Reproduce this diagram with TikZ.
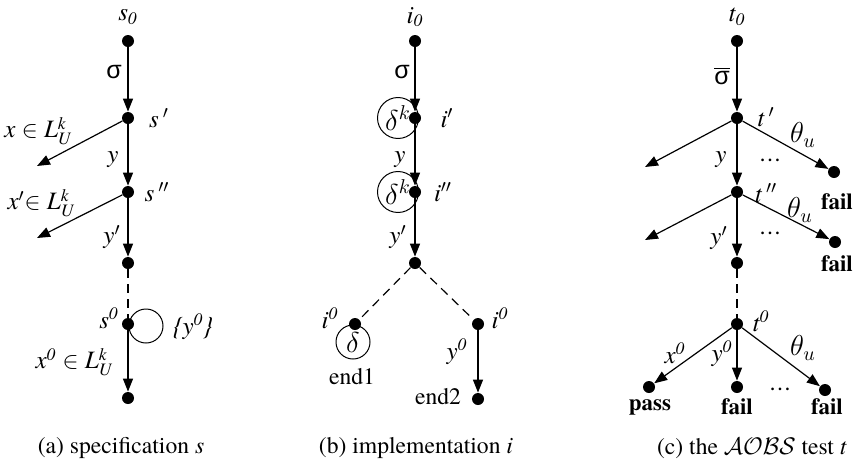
\documentclass[tikz,border=0pt]{standalone}
\usepackage{amsmath}
\usepackage{fontspec}
\setmainfont{texgyretermes}[Extension=.otf,UprightFont=*-regular,ItalicFont=*-italic,BoldFont=*-bold,BoldItalicFont=*-bolditalic,Ligatures=TeX]
\newfontfamily\sansgr{Liberation Sans}
\usetikzlibrary{arrows.meta}
\newcommand{\myLk}{\textit{L}$^{\textit{k}}_{\textit{U}}$}
\newcommand{\mysig}{{\sansgr\upshape σ}}
\newcommand{\pr}{$'$}
\newcommand{\ppr}{$''$}
\begin{document}
\begin{tikzpicture}[x=0.5pt,y=-0.5pt,
  dot/.style={circle,fill=black,inner sep=0pt,minimum size=6pt},
  lbl/.style={inner sep=1pt,font=\fontsize{12.5}{14}\selectfont\itshape},
  biglbl/.style={inner sep=1pt,font=\fontsize{14}{16}\selectfont\itshape},
  bold/.style={inner sep=1pt,font=\fontsize{11.5}{13}\selectfont\bfseries},
  captxt/.style={inner sep=1pt,font=\fontsize{11.8}{14}\selectfont},
  edge/.style={line width=0.6pt,-{Triangle[length=6.5pt,width=5pt]}},
  dashedge/.style={line width=0.6pt,dash pattern=on 4.5pt off 3pt},
  ring/.style={circle,draw,line width=0.5pt,minimum size=17pt,inner sep=0pt}]
\useasboundingbox (0,0) rectangle (855,467);
% ---------- (a) ----------
\node[dot] (s0) at (128,41) {};
\node[dot] (s1) at (128,118) {};
\node[dot] (s2) at (128,192) {};
\node[dot] (s3) at (128,263) {};
\node[dot] (s4) at (128,324) {};
\node[dot] (s5) at (128,398) {};
\coordinate (sa) at (37,166);
\coordinate (sb) at (37,238);
\draw[edge] (s0) -- (s1);
\draw[edge] (s1) -- (s2);
\draw[edge] (s2) -- (s3);
\draw[dashedge] (s3) -- (s4);
\draw[edge] (s4) -- (s5);
\draw[edge] (s1) -- (sa);
\draw[edge] (s2) -- (sb);
\node[ring,minimum size=17pt] (sloop) at (146,326) {};
\node[lbl] (ls0) at (128,17) {s\textsubscript{\itshape 0}};
\node[lbl] (lsig) at (114,72) {\mysig};
\node[lbl] (ls1) at (159,118) {s\,\pr};
\node[lbl] (ls2) at (157,192) {s\,\ppr};
\node[lbl] (ly) at (113,160) {y};
\node[lbl] (ly1) at (112,237) {y\pr};
\node[lbl] (lx) at (38,131) {x $\in$ \myLk};
\node[lbl] (lx1) at (41,203) {x\pr$\in$ \myLk};
\node[lbl] (ls4) at (109,318) {s\textsuperscript{0}};
\node[lbl] (lloop) at (193,327) {\{y\textsuperscript{0}\}};
\node[lbl] (lx0) at (74,362) {x\textsuperscript{0} $\in$ \myLk};
\node[captxt] (capa) at (121,448) {(a) specification \textit{s}};
% ---------- (b) ----------
\node[dot] (i0) at (415,41) {};
\node[dot] (i1) at (415,118) {};
\node[dot] (i2) at (415,192) {};
\node[dot] (i3) at (415,263) {};
\node[dot] (i4) at (355,324) {};
\node[dot] (i5) at (478,324) {};
\node[dot] (i6) at (478,399) {};
\draw[edge] (i0) -- (i1);
\draw[edge] (i1) -- (i2);
\draw[edge] (i2) -- (i3);
\draw[dashedge] (i3) -- (i4);
\draw[dashedge] (i3) -- (i5);
\draw[edge] (i5) -- (i6);
\node[ring,biglbl,minimum size=17pt] (d1) at (398,118) {$\delta^k$};
\node[ring,biglbl,minimum size=17pt] (d2) at (398,192) {$\delta^k$};
\node[ring,biglbl,minimum size=17pt] (d3) at (353,342) {$\delta$};
\node[lbl] (li0) at (415,17) {i\textsubscript{\itshape 0}};
\node[lbl] (lsigb) at (402,72) {\mysig};
\node[lbl] (li1) at (447,118) {i\pr};
\node[lbl] (li2) at (443,192) {i\ppr};
\node[lbl] (lyb) at (400,160) {y};
\node[lbl] (ly1b) at (398,237) {y\pr};
\node[lbl] (li4) at (330,318) {i\textsuperscript{0}};
\node[lbl] (li5) at (500,318) {i\textsuperscript{0}};
\node[lbl] (ly0b) at (457,352) {y\textsuperscript{0}};
\node[captxt] (lend1) at (352,377) {end1};
\node[captxt] (lend2) at (438,397) {end2};
\node[captxt] (capb) at (416,448) {(b) implementation \textit{i}};
% ---------- (c) ----------
\node[dot] (t0) at (737,41) {};
\node[dot] (t1) at (737,118) {};
\node[dot] (t2) at (737,192) {};
\node[dot] (t3) at (737,263) {};
\node[dot] (t4) at (737,324) {};
\node[dot] (f1) at (834,172) {};
\node[dot] (f2) at (835,242) {};
\node[dot] (tp) at (649,387) {};
\node[dot] (tf1) at (737,387) {};
\node[dot] (tf2) at (825,390) {};
\coordinate (ta) at (645,167);
\coordinate (tb) at (645,240);
\draw[edge] (t0) -- (t1);
\draw[edge] (t1) -- (t2);
\draw[edge] (t2) -- (t3);
\draw[dashedge] (t3) -- (t4);
\draw[edge] (t1) -- (ta);
\draw[edge] (t2) -- (tb);
\draw[edge] (t1) -- (f1);
\draw[edge] (t2) -- (f2);
\draw[edge] (t4) -- (tp);
\draw[edge] (t4) -- (tf1);
\draw[edge] (t4) -- (tf2);
\node[lbl] (lt0) at (737,17) {t\textsubscript{\itshape 0}};
\node[lbl] (lsigc) at (722,76) {$\overline{\hbox{\mysig}}$};
\node[lbl] (lt1) at (766,117) {t\,\pr};
\node[lbl] (lt2) at (766,193) {t\,\ppr};
\node[lbl] (lyc) at (721,160) {y};
\node[lbl] (ly1c) at (719,238) {y\pr};
\node[biglbl] (lth1) at (803,135) {$\theta_u$};
\node[biglbl] (lth2) at (800,210) {$\theta_u$};
\node[lbl] (ldot1) at (771,160) {\dots};
\node[lbl] (ldot2) at (771,233) {\dots};
\node[bold] (lf1) at (837,202) {fail};
\node[bold] (lf2) at (837,264) {fail};
\node[lbl] (lt4) at (761,321) {t\textsuperscript{0}};
\node[lbl] (lx0c) at (675,353) {x\textsuperscript{0}};
\node[lbl] (ly0c) at (722,354) {y\textsuperscript{0}};
\node[biglbl] (lth3) at (803,348) {$\theta_u$};
\node[lbl] (ldot3) at (781,389) {\dots};
\node[bold] (lpass) at (650,407) {pass};
\node[bold] (lfail1) at (737,407) {fail};
\node[bold] (lfail2) at (827,407) {fail};
\node[captxt] (capc) at (752,448) {(c) the $\mathcal{AOBS}$ test \textit{t}};
\end{tikzpicture}
\end{document}
